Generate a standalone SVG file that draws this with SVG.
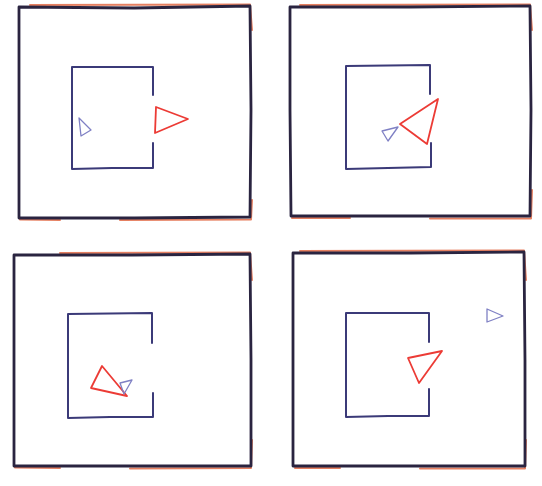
<svg xmlns="http://www.w3.org/2000/svg" width="542" height="486" viewBox="0 0 542 486">
<style>
.outer-red{fill:none;stroke:#e0603a;stroke-width:2;stroke-linejoin:round;stroke-linecap:round;opacity:0.8}
.outer{fill:none;stroke:#2a2440;stroke-width:2.8;stroke-linejoin:round;stroke-linecap:round}
.inner{fill:none;stroke:#3b3a78;stroke-width:2;stroke-linejoin:round;stroke-linecap:round}
.red{fill:none;stroke:#ec3b35;stroke-width:1.8;stroke-linejoin:round}
.blue{fill:none;stroke:#7f80c4;stroke-width:1.3;stroke-linejoin:round}
</style>
<rect width="542" height="486" fill="#ffffff"/>
<g id="panel1">
  <path class="outer-red" d="M30,5 L250,4.5 L252,30 M252,200 L251,219.5 L120,220 M60,220 L20,219.5"/>
  <path class="outer" d="M19,7 L134,8 L250,6 L251,110 L250,217 L135,218 L19,218 L19,110 Z"/>
  <path class="inner" d="M153,95 L153,67 L72,67 L72,169 L112,168 L153,168 L153,143"/>
  <path class="blue" d="M79,118 L91,130 L81,136 Z"/>
  <path class="red" d="M156,107 L188,119 L155,133 Z"/>
</g>
<g id="panel2">
  <path class="outer-red" d="M300,5 L530,4.5 L532,30 M532,190 L531,218.5 L430,218.5 M350,218 L292,218"/>
  <path class="outer" d="M290,7 L410,7 L530,6 L531,110 L530,216 L410,216 L291,216 L290,110 Z"/>
  <path class="inner" d="M430,94 L430,65 L346,66 L346,169 L388,168 L431,167 L431,143"/>
  <path class="blue" d="M382,131 L398,127 L388,141 Z"/>
  <path class="red" d="M400,124 L438,99 L427,144 Z"/>
</g>
<g id="panel3">
  <path class="outer-red" d="M60,253 L250,252.5 L252,280 M252,440 L251,468 L130,468.5 M60,468 L15,467.5"/>
  <path class="outer" d="M14,255 L132,255 L250,254 L251,360 L251,466 L132,466 L14,466 L14,360 Z"/>
  <path class="inner" d="M152,343 L152,313 L68,314 L68,418 L110,417 L153,417 L153,393"/>
  <path class="red" d="M102,366 L91,388 L127,396 Z"/>
  <path class="blue" d="M120,383 L132,380 L124,394 Z"/>
</g>
<g id="panel4">
  <path class="outer-red" d="M300,251 L524,250.5 L526,280 M526,440 L525,468.5 L420,468.5 M340,468 L295,468"/>
  <path class="outer" d="M293,253 L410,253 L524,252 L525,360 L525,466 L410,466 L293,466 L293,360 Z"/>
  <path class="inner" d="M429,342 L429,313 L346,313 L346,417 L388,416 L429,416 L429,389"/>
  <path class="red" d="M408,358 L442,351 L419,383 Z"/>
  <path class="blue" d="M487,309 L503,316 L487,322 Z"/>
</g>
</svg>
